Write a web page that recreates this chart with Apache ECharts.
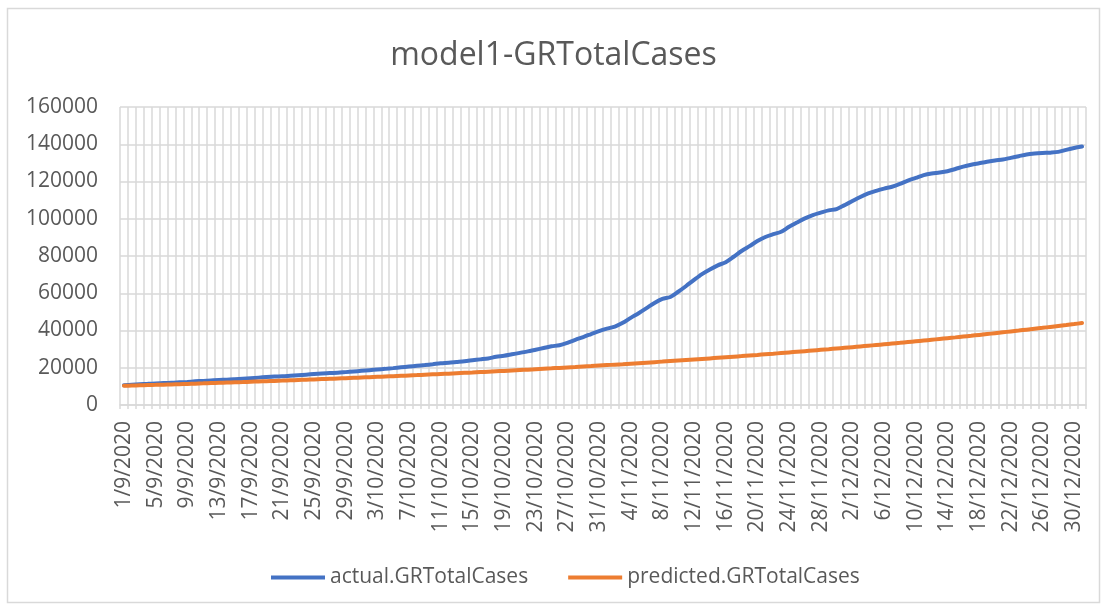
<!DOCTYPE html>
<html>
<head>
<meta charset="utf-8">
<title>model1-GRTotalCases</title>
<script src="https://cdn.jsdelivr.net/npm/echarts@6/dist/echarts.min.js"></script>
<style>
  html, body { margin: 0; padding: 0; background: #fff; }
  #chart { width: 1107px; height: 607px; }
</style>
</head>
<body>
<div id="chart"></div>
<script>
// dates 1/9/2020 .. 31/12/2020
var months = [[9, 30], [10, 31], [11, 30], [12, 31]];
var dates = [];
months.forEach(function (m) {
  for (var d = 1; d <= m[1]; d++) dates.push(d + '/' + m[0] + '/2020');
});

var actual = [
  10600, 10850, 11100, 11350, 11600, 11800, 11900, 12150, 12400, 12700,
  12950, 13200, 13450, 13550, 13800, 14100, 14400, 14700, 15000, 15250,
  15400, 15700, 16000, 16300, 16600, 16900, 17150, 17300, 17650, 18000,
  18350, 18700, 19050, 19400, 19800, 20250, 20650, 21050, 21450, 21900,
  22400, 22700, 23100, 23500, 24000, 24500, 25000, 25900, 26400, 27200,
  28000, 28800, 29700, 30600, 31500, 32100, 33400, 35000, 36500, 38100,
  39700, 41000, 42100, 44100, 46800, 49300, 52000, 54800, 57000, 58000,
  60800, 63900, 67200, 70300, 72800, 75000, 76700, 79600, 82700, 85300,
  88000, 90200, 91700, 93000, 95700, 98000, 100200, 102000, 103300, 104500,
  105200, 107300, 109500, 111700, 113600, 115000, 116200, 117200, 118700, 120500,
  121900, 123400, 124300, 124800, 125500, 126700, 128000, 129000, 129800, 130600,
  131300, 131800, 132700, 133600, 134500, 135000, 135300, 135500, 135900, 137000,
  138000, 138800
];

var predicted = [
  10300, 10424, 10550, 10677, 10806, 10936, 11068, 11202, 11337, 11474,
  11612, 11752, 11894, 12038, 12183, 12330, 12479, 12630, 12782, 12936,
  13092, 13250, 13410, 13572, 13736, 13902, 14070, 14240, 14412, 14586,
  14762, 14940, 15120, 15303, 15488, 15675, 15864, 16055, 16249, 16445,
  16643, 16844, 17047, 17253, 17461, 17672, 17885, 18101, 18319, 18540,
  18764, 18990, 19219, 19451, 19686, 19924, 20164, 20407, 20653, 20902,
  21158, 21416, 21675, 21936, 22201, 22469, 22740, 23014, 23292, 23573,
  23858, 24146, 24437, 24732, 25030, 25332, 25638, 25947, 26260, 26577,
  26898, 27226, 27554, 27887, 28223, 28564, 28909, 29258, 29611, 29968,
  30330, 30696, 31066, 31441, 31820, 32204, 32593, 32986, 33384, 33787,
  34196, 34609, 35027, 35449, 35877, 36310, 36748, 37191, 37640, 38094,
  38555, 39022, 39493, 39970, 40452, 40940, 41434, 41934, 42440, 42952,
  43470, 43997
];

var yTicks = { min: 0, max: 160000, step: 20000 };

var font = '"Open Sans", "Liberation Sans", sans-serif';
var textCol = '#595959';
var gridCol = '#d9d9d9';

var chart = echarts.init(document.getElementById('chart'), null, { renderer: 'canvas' });
chart.setOption({
  animation: false,
  backgroundColor: '#fff',
  title: {
    text: 'model1-GRTotalCases',
    left: 'center',
    top: 35,
    textStyle: { fontFamily: font, fontSize: 32, fontWeight: 'normal', color: textCol }
  },
  graphic: [{
    type: 'rect',
    shape: { x: 7.5, y: 8.5, width: 1092, height: 594 },
    style: { fill: null, stroke: '#d9d9d9', lineWidth: 1.5 },
    silent: true
  }],
  legend: {
    bottom: 14,
    left: 266,
    itemWidth: 54,
    itemHeight: 4,
    itemGap: 40,
    icon: 'rect',
    textStyle: { fontFamily: font, fontSize: 21, color: textCol },
    data: ['actual.GRTotalCases', 'predicted.GRTotalCases']
  },
  grid: { left: 120, right: 21, top: 107, bottom: 202, containLabel: false },
  xAxis: {
    type: 'category',
    data: dates,
    boundaryGap: true,
    axisLine: { show: true, lineStyle: { color: gridCol, width: 1.5 } },
    axisTick: { show: true, interval: 0, length: 4, lineStyle: { color: gridCol, width: 1.5 } },
    splitLine: { show: true, interval: 0, lineStyle: { color: gridCol, width: 1.5 } },
    axisLabel: {
      interval: 3,
      rotate: 90,
      margin: 16,
      fontFamily: font,
      fontSize: 21,
      color: textCol
    }
  },
  yAxis: {
    type: 'value',
    min: yTicks.min,
    max: yTicks.max,
    interval: yTicks.step,
    axisLine: { show: false },
    axisTick: { show: false },
    splitLine: { lineStyle: { color: gridCol, width: 1.5 } },
    axisLabel: {
      margin: 22,
      fontFamily: font,
      fontSize: 21,
      color: textCol,
      formatter: function (v) { return String(v); }
    }
  },
  series: [
    {
      name: 'actual.GRTotalCases',
      type: 'line',
      data: actual,
      smooth: 0.3,
      symbol: 'none',
      itemStyle: { color: '#4472c4' },
      lineStyle: { color: '#4472c4', width: 4, cap: 'round' }
    },
    {
      name: 'predicted.GRTotalCases',
      type: 'line',
      data: predicted,
      smooth: 0.3,
      symbol: 'none',
      itemStyle: { color: '#ed7d31' },
      lineStyle: { color: '#ed7d31', width: 4, cap: 'round' }
    }
  ]
});
</script>
</body>
</html>
